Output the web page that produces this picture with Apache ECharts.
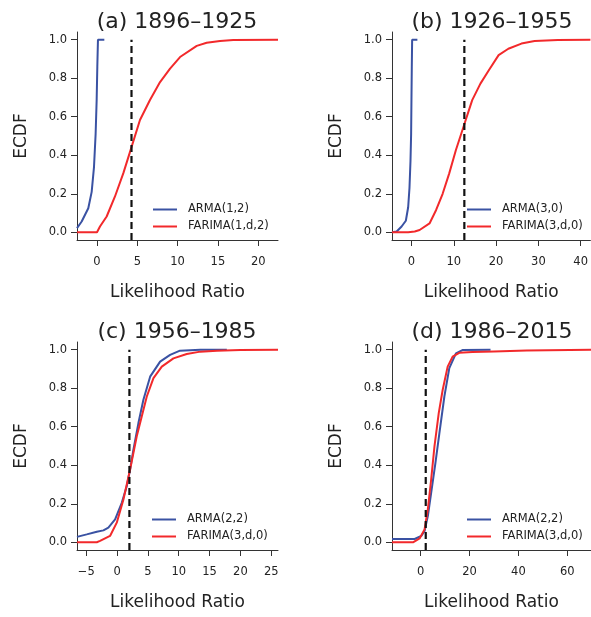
<!DOCTYPE html>
<html>
<head>
<meta charset="utf-8">
<script src="https://cdn.jsdelivr.net/npm/echarts@6/dist/echarts.min.js"></script>
<style>
html,body{margin:0;padding:0;background:#fff;}
#c{width:591px;height:617px;}
</style>
</head>
<body>
<div id="c"></div>
<script>
// ---------- data ----------
const titles = ['(a) 1896\u20131925', '(b) 1926\u20131955', '(c) 1956\u20131985', '(d) 1986\u20132015'];
const armaNames = ['ARMA(1,2)', 'ARMA(3,0)', 'ARMA(2,2)', 'ARMA(2,2)'];
const farimaNames = ['FARIMA(1,d,2)', 'FARIMA(3,d,0)', 'FARIMA(3,d,0)', 'FARIMA(3,d,0)'];
const observedLR = [4.28, 12.5, 2.0, 2.1];
const yTicks = [0, 0.2, 0.4, 0.6, 0.8, 1.0];
const xTicksA = [0, 5, 10, 15, 20];
const xTicksB = [0, 10, 20, 30, 40];
const xTicksC = [-5, 0, 5, 10, 15, 20, 25];
const xTicksD = [0, 20, 40, 60];
const xRangeA = [-2.48, 22.45];
const xRangeB = [-4.6, 42.3];
const xRangeC = [-6.5, 26.1];
const xRangeD = [-11.7, 69.7];

// panel (a)
const aArmaX = [-2.48, -1.9, -1.08, -0.66, -0.37, -0.17, -0.04, 0.04, 0.12, 0.91];
const aArmaY = [0.022, 0.056, 0.125, 0.21, 0.34, 0.51, 0.69, 0.86, 1.0, 1.0];
const aFarX = [-2.48, 0.0, 0.37, 1.2, 2.23, 3.27, 4.3, 5.33, 6.57, 7.82, 9.06, 10.3, 12.37, 13.6, 15.26, 16.9, 22.45];
const aFarY = [0, 0, 0.03, 0.082, 0.186, 0.307, 0.445, 0.583, 0.687, 0.78, 0.85, 0.91, 0.968, 0.984, 0.993, 0.998, 1.0];
// panel (b)
const bArmaX = [-4.6, -3.5, -2.33, -1.33, -0.78, -0.47, -0.23, -0.08, 0, 0.08, 0.16, 1.4];
const bArmaY = [0, 0.004, 0.03, 0.06, 0.13, 0.23, 0.37, 0.51, 0.69, 0.86, 1.0, 1.0];
const bFarX = [-4.6, -0.78, 0.77, 1.93, 4.27, 5.83, 7.37, 8.93, 10.49, 12.42, 14.36, 16.3, 18.25, 20.6, 22.9, 26.0, 29.1, 34.6, 42.3];
const bFarY = [0, 0, 0.004, 0.012, 0.046, 0.116, 0.2, 0.306, 0.426, 0.556, 0.686, 0.772, 0.84, 0.92, 0.953, 0.98, 0.993, 0.999, 1.0];
// panel (c)
const cArmaX = [-6.5, -4.92, -3.29, -2.21, -1.41, -0.32, 0.76, 1.57, 2.11, 2.65, 3.46, 4.27, 5.36, 6.98, 8.6, 10.2, 13.5, 17.8];
const cArmaY = [0.028, 0.041, 0.055, 0.062, 0.076, 0.119, 0.205, 0.291, 0.378, 0.481, 0.619, 0.74, 0.86, 0.938, 0.973, 0.995, 1.0, 1.0];
const cFarX = [-6.5, -3.29, -2.76, -1.95, -1.14, -0.05, 1.03, 2.11, 3.19, 4.0, 4.82, 5.9, 7.25, 9.14, 11.3, 13.5, 16.2, 20, 26.1];
const cFarY = [0, 0, 0.007, 0.02, 0.033, 0.102, 0.222, 0.378, 0.55, 0.653, 0.757, 0.852, 0.912, 0.955, 0.978, 0.99, 0.994, 0.998, 1.0];
// panel (d)
const dArmaX = [-11.7, -2.43, 0.28, 1.62, 2.96, 4.32, 6.07, 7.69, 9.72, 11.74, 14.45, 17.1, 28.6];
const dArmaY = [0.017, 0.017, 0.033, 0.059, 0.136, 0.257, 0.412, 0.567, 0.757, 0.904, 0.981, 0.998, 1.0];
const dFarX = [-11.7, -3.1, -0.4, 1.62, 2.96, 4.32, 5.67, 7.42, 9.04, 11.07, 13.1, 15.8, 21.2, 30, 43.4, 69.7];
const dFarY = [0, 0, 0.02, 0.067, 0.171, 0.326, 0.498, 0.671, 0.792, 0.912, 0.964, 0.984, 0.988, 0.991, 0.996, 1.0];

// ---------- build ----------
const FONT = 'DejaVu Sans';
const BLUE = '#3a52a3';
const RED = '#f2292b';
const INK = '#222';

const panels = [
  {armaX: aArmaX, armaY: aArmaY, farX: aFarX, farY: aFarY, xr: xRangeA, xt: xTicksA},
  {armaX: bArmaX, armaY: bArmaY, farX: bFarX, farY: bFarY, xr: xRangeB, xt: xTicksB},
  {armaX: cArmaX, armaY: cArmaY, farX: cFarX, farY: cFarY, xr: xRangeC, xt: xTicksC},
  {armaX: dArmaX, armaY: dArmaY, farX: dFarX, farY: dFarY, xr: xRangeD, xt: xTicksD}
];
const gridPos = [
  {left: 77, top: 32}, {left: 392, top: 32},
  {left: 77, top: 342}, {left: 392, top: 342}
];
const legendPos = [
  {left: 153, top: 203}, {left: 467, top: 203},
  {left: 152, top: 513}, {left: 467, top: 513}
];
const titlePos = [[177, 22], [492, 22], [177, 332], [492, 332]];

const zip = (xs, ys) => xs.map((x, i) => [x, ys[i]]);
const fmtX = v => (v < 0 ? '\u2212' + Math.abs(v) : String(v));

const grid = [], xAxis = [], yAxis = [], series = [], legend = [], graphic = [];
panels.forEach((p, i) => {
  grid.push({left: gridPos[i].left, top: gridPos[i].top, width: 201, height: 208, containLabel: false});
  xAxis.push({
    type: 'value', gridIndex: i, min: p.xr[0], max: p.xr[1],
    name: 'Likelihood Ratio', nameLocation: 'middle', nameGap: 44,
    nameTextStyle: {fontFamily: FONT, fontSize: 17, color: INK},
    splitLine: {show: false},
    axisLine: {onZero: false, lineStyle: {color: '#333', width: 1}},
    axisTick: {customValues: p.xt, length: 6, lineStyle: {color: '#333'}},
    axisLabel: {customValues: p.xt, formatter: fmtX, margin: 16, fontFamily: FONT, fontSize: 11.5, color: INK}
  });
  yAxis.push({
    type: 'value', gridIndex: i, min: -0.04, max: 1.04,
    name: 'ECDF', nameLocation: 'middle', nameGap: 47,
    nameTextStyle: {fontFamily: FONT, fontSize: 17, color: INK},
    splitLine: {show: false},
    axisLine: {show: true, onZero: false, lineStyle: {color: '#333', width: 1}},
    axisTick: {show: true, customValues: yTicks, length: 6, lineStyle: {color: '#333'}},
    axisLabel: {customValues: yTicks, formatter: v => v.toFixed(1), margin: 10, fontFamily: FONT, fontSize: 11.5, color: INK}
  });
  series.push({
    name: armaNames[i], type: 'line', xAxisIndex: i, yAxisIndex: i,
    data: zip(p.armaX, p.armaY), showSymbol: false, symbol: 'none',
    lineStyle: {color: BLUE, width: 2}, itemStyle: {color: BLUE}, silent: true, z: 2
  });
  series.push({
    name: farimaNames[i], type: 'line', xAxisIndex: i, yAxisIndex: i,
    data: zip(p.farX, p.farY), showSymbol: false, symbol: 'none',
    lineStyle: {color: RED, width: 2}, itemStyle: {color: RED}, silent: true, z: 3
  });
  series.push({
    name: 'observed' + i, type: 'line', xAxisIndex: i, yAxisIndex: i,
    data: [[observedLR[i], -0.04], [observedLR[i], 1.0]], showSymbol: false, symbol: 'none',
    lineStyle: {color: '#111', width: 2.2, type: [7, 4]}, silent: true, z: 4
  });
  legend.push({
    left: legendPos[i].left, top: legendPos[i].top, orient: 'vertical', padding: 0,
    itemWidth: 24, itemHeight: 2, itemGap: 4, icon: 'rect',
    data: [armaNames[i], farimaNames[i]],
    selectedMode: false,
    textStyle: {fontFamily: FONT, fontSize: 11.5, color: INK, lineHeight: 13, padding: [0, 0, 0, 6]}
  });
  graphic.push({
    type: 'text', x: titlePos[i][0], y: titlePos[i][1], silent: true,
    style: {text: titles[i], fontFamily: FONT, fontSize: 22, fill: INK,
            align: 'center', verticalAlign: 'middle', textAlign: 'center', textVerticalAlign: 'middle'}
  });
});

const chart = echarts.init(document.getElementById('c'), null, {renderer: 'canvas'});
chart.setOption({
  animation: false,
  backgroundColor: '#fff',
  grid, xAxis, yAxis, series, legend, graphic
});
</script>
</body>
</html>
